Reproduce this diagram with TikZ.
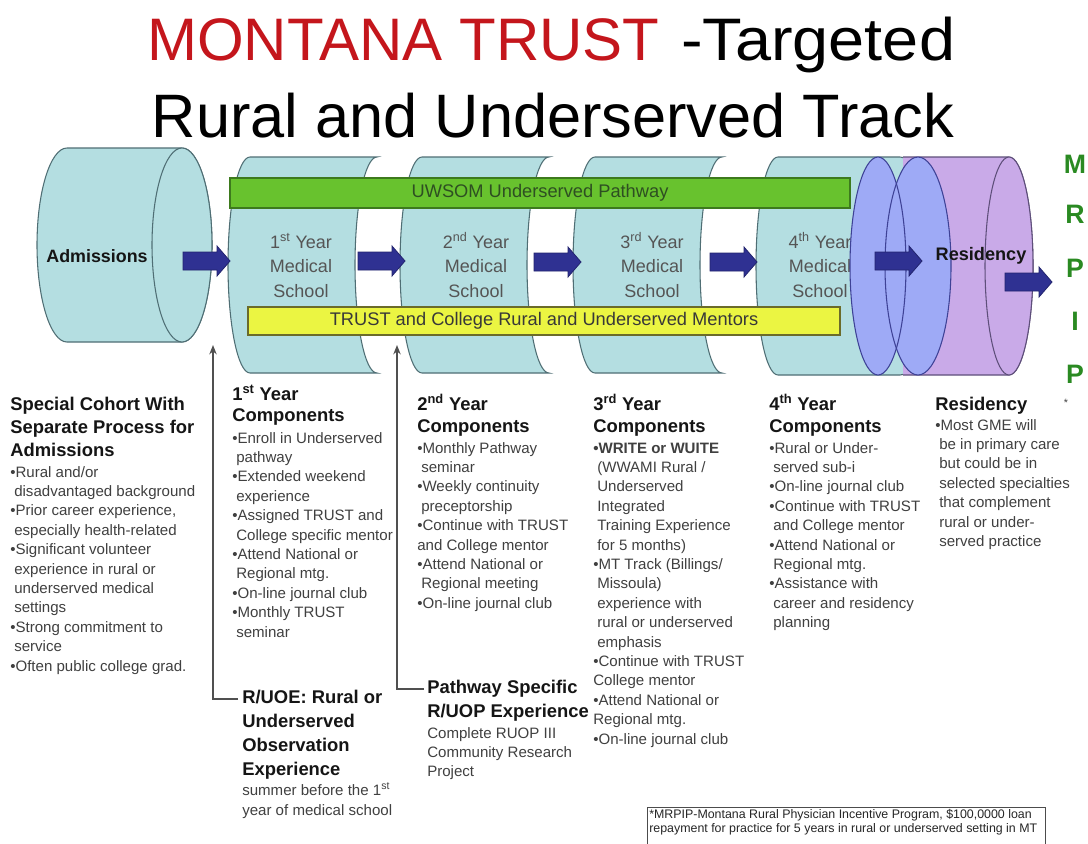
\documentclass[tikz,border=0pt]{standalone}
\usepackage{fontspec}
\setmainfont{Liberation Sans}
\usepackage{graphicx}
\usetikzlibrary{arrows.meta}
\definecolor{titlered}{HTML}{C4161C}
\definecolor{tealfill}{HTML}{B4DEE1}
\definecolor{tealline}{HTML}{4F6E74}
\definecolor{bluefill}{HTML}{9EAAF6}
\definecolor{blueline}{HTML}{3E4296}
\definecolor{purfill}{HTML}{C9AAE8}
\definecolor{purline}{HTML}{5E4F7A}
\definecolor{barGreen}{HTML}{68C22E}
\definecolor{barGreenLine}{HTML}{3D7A1D}
\definecolor{barGreenText}{HTML}{2E4F22}
\definecolor{barYellow}{HTML}{EBF542}
\definecolor{barYellowLine}{HTML}{6B6B2A}
\definecolor{arrowfill}{HTML}{2F3192}
\definecolor{arrowline}{HTML}{22246E}
\definecolor{mrgreen}{HTML}{2A8A22}
\definecolor{bodygray}{HTML}{404040}
\definecolor{seggray}{HTML}{555555}
\definecolor{headblack}{HTML}{151515}
\definecolor{connline}{HTML}{505050}
\newcommand{\bul}{\textbullet}
\newcommand{\ind}{\hspace*{3pt}}
\newcommand{\tb}[1]{\parbox[t]{200pt}{\raggedright #1}}
\newcommand{\tc}[1]{\parbox[t]{100pt}{\centering #1}}
\newcommand{\sps}[1]{\textsuperscript{#1}}
\newcommand{\yearseg}[1]{\path[seg] (#1,157) -- ++(127,0) arc[start angle=-90,end angle=-270,x radius=22,y radius=108] -- ++(-127,0) arc[start angle=90,end angle=270,x radius=22,y radius=108] -- cycle;}
\newcommand{\blockarrow}[2]{\path[barrow] (#1,#2) ++(0,-9) -- ++(34,0) -- ++(0,-6) -- ++(13,15) -- ++(-13,15) -- ++(0,-6) -- ++(-34,0) -- cycle;}
\begin{document}
\begin{tikzpicture}[x=0.75pt,y=-0.75pt,
  seg/.style={fill=tealfill,draw=tealline,line width=0.8pt},
  blueell/.style={fill=bluefill},
  blueedge/.style={draw=blueline,line width=0.8pt},
  pur/.style={fill=purfill,draw=purline,line width=0.8pt},
  barrow/.style={fill=arrowfill,draw=arrowline,line width=0.6pt},
  bar/.style={draw,line width=0.8pt,inner sep=0pt,font=\fontsize{13.7}{16}\selectfont},
  seglab/.style={inner sep=0pt,anchor=base,text=seggray,font=\fontsize{13.5}{18.4}\selectfont},
  head/.style={inner sep=0pt,anchor=base west,text=headblack,font=\bfseries\fontsize{13.8}{16.5}\selectfont},
  body/.style={inner sep=0pt,anchor=base west,text=bodygray,font=\fontsize{11.3}{14.55}\selectfont},
  conn/.style={draw=connline,line width=1.1pt,-{Stealth[length=7pt,width=5.5pt]}},
  mr/.style={inner sep=0pt,anchor=base,text=mrgreen,font=\bfseries\fontsize{20}{22}\selectfont}
]
\useasboundingbox (0,0) rectangle (1088,843);
\fill[white] (0,0) rectangle (1088,843);

% title
\node[inner sep=0pt,anchor=base west,text=titlered,font=\fontsize{45}{50}\selectfont] (t1) at (147,60) {MONTANA TRUST};
\node[inner sep=0pt,anchor=base west,font=\fontsize{45}{50}\selectfont] (t1b) at (681,60) {\scalebox{1.08}[1]{-Targeted}};
\node[inner sep=0pt,anchor=base,font=\fontsize{46}{50}\selectfont] (t2) at (553,137) {Rural and Underserved Track};

% admissions cylinder
\path[seg] (67,148) -- (182,148) arc[start angle=-90,end angle=90,x radius=30,y radius=97] -- (67,342) arc[start angle=90,end angle=270,x radius=30,y radius=97] -- cycle;
\path[seg] (182,245) ellipse[x radius=30,y radius=97];
\node[inner sep=0pt,anchor=base,font=\bfseries\fontsize{13.4}{16}\selectfont,text=headblack] (adm) at (97,262) {Admissions};

% year segments
\yearseg{250}
\yearseg{422}
\yearseg{595}
% 4th year body
\path[seg] (778,157) -- (900,157) arc[start angle=-90,end angle=90,x radius=28,y radius=109] -- (778,375) arc[start angle=90,end angle=270,x radius=22,y radius=109] -- cycle;

\node[seglab] (s1) at (301,248) {\tc{1\sps{st} Year\\Medical\\School}};
\node[seglab] (s2) at (476,248) {\tc{2\sps{nd} Year\\Medical\\School}};
\node[seglab] (s3) at (652,248) {\tc{3\sps{rd} Year\\Medical\\School}};
\node[seglab] (s4) at (820,248) {\tc{4\sps{th} Year\\Medical\\School}};

% blue ellipse 1, purple body, blue ellipse 2, purple end
\path[blueell] (878,266) ellipse[x radius=28,y radius=109];
\fill[purfill] (903,157) -- (1009,157) arc[start angle=-90,end angle=90,x radius=24,y radius=109] -- (903,375) -- cycle;
\draw[draw=purline,line width=0.8pt] (903,157) -- (1009,157) arc[start angle=-90,end angle=90,x radius=24,y radius=109] -- (903,375);
\path[blueell] (918,266) ellipse[x radius=33,y radius=109];
\path[blueedge] (918,266) ellipse[x radius=33,y radius=109];
\path[blueedge] (878,266) ellipse[x radius=28,y radius=109];
\path[pur] (1009,266) ellipse[x radius=24,y radius=109];

% bars
\node[bar,fill=barGreen,draw=barGreenLine,text=barGreenText,minimum width=465pt,minimum height=22.5pt] (uwsom) at (540,193) {UWSOM Underserved Pathway};
\node[bar,fill=barYellow,draw=barYellowLine,text=headblack!85,minimum width=444pt,minimum height=21pt] (mentors) at (544,321) {TRUST and College Rural and Underserved Mentors};

% block arrows
\blockarrow{183}{261}
\blockarrow{358}{261}
\blockarrow{534}{262}
\blockarrow{710}{262}
\blockarrow{875}{261}
\node[inner sep=0pt,anchor=base,font=\bfseries\fontsize{13.6}{16}\selectfont,text=headblack] (res) at (981,260) {Residency};
\blockarrow{1005}{282}

% MRPIP
\node[mr] (m1) at (1075,173) {M};
\node[mr] (m2) at (1075,223) {R};
\node[mr] (m3) at (1075,277) {P};
\node[mr] (m4) at (1075,330) {I};
\node[mr] (m5) at (1075,383) {P};
\node[inner sep=0pt,anchor=base,text=bodygray,font=\fontsize{8}{9}\selectfont] (ast) at (1066,406) {*};

% column 1
\node[head,font=\bfseries\fontsize{13.8}{17.25}\selectfont] (h1) at (10,410) {\tb{Special Cohort With\\Separate Process for\\Admissions}};
\node[body] (b1) at (10,477) {\tb{\bul Rural and/or\\
\ind disadvantaged background\\
\bul Prior career experience,\\
\ind especially health-related\\
\bul Significant volunteer\\
\ind experience in rural or\\
\ind underserved medical\\
\ind settings\\
\bul Strong commitment to\\
\ind service\\
\bul Often public college grad.}};

% column 2
\node[head,font=\bfseries\fontsize{13.8}{15.9}\selectfont] (h2) at (232,400) {\tb{1\sps{st} Year\\Components}};
\node[body] (b2) at (232,443) {\tb{\bul Enroll in Underserved\\
\ind pathway\\
\bul Extended weekend\\
\ind experience\\
\bul Assigned TRUST and\\
\ind College specific mentor\\
\bul Attend National or\\
\ind Regional mtg.\\
\bul On-line journal club\\
\bul Monthly TRUST\\
\ind seminar}};

% column 3
\node[head] (h3) at (417,410) {\tb{2\sps{nd} Year\\Components}};
\node[body] (b3) at (417,453) {\tb{\bul Monthly Pathway\\
\ind seminar\\
\bul Weekly continuity\\
\ind preceptorship\\
\bul Continue with TRUST\\
and College mentor\\
\bul Attend National or\\
\ind Regional meeting\\
\bul On-line journal club}};

% column 4
\node[head] (h4) at (593,410) {\tb{3\sps{rd} Year\\Components}};
\node[body] (b4) at (593,453) {\tb{\textbf{\bul WRITE or WUITE}\\
\ind (WWAMI Rural /\\
\ind Underserved\\
\ind Integrated\\
\ind Training Experience\\
\ind for 5 months)\\
\bul MT Track (Billings/\\
\ind Missoula)\\
\ind experience with\\
\ind rural or underserved\\
\ind emphasis\\
\bul Continue with TRUST\\
College mentor\\
\bul Attend National or\\
Regional mtg.\\
\bul On-line journal club}};

% column 5
\node[head] (h5) at (769,410) {\tb{4\sps{th} Year\\Components}};
\node[body] (b5) at (769,453) {\tb{\bul Rural or Under-\\
\ind served sub-i\\
\bul On-line journal club\\
\bul Continue with TRUST\\
\ind and College mentor\\
\bul Attend National or\\
\ind Regional mtg.\\
\bul Assistance with\\
\ind career and residency\\
\ind planning}};

% column 6
\node[head] (h6) at (935,410) {\tb{Residency}};
\node[body] (b6) at (935,430) {\tb{\bul Most GME will\\
\ind be in primary care\\
\ind but could be in\\
\ind selected specialties\\
\ind that complement\\
\ind rural or under-\\
\ind served practice}};

% R/UOE block
\node[head,font=\bfseries\fontsize{13.8}{18}\selectfont] (h7) at (242,703) {\tb{R/UOE: Rural or\\Underserved\\Observation\\Experience}};
\node[body,font=\fontsize{11.3}{15}\selectfont] (b7) at (242,795) {\tb{summer before the 1\sps{st}\\year of medical school}};

% Pathway block
\node[head,font=\bfseries\fontsize{13.8}{18}\selectfont] (h8) at (427,693) {\tb{Pathway Specific\\R/UOP Experience}};
\node[body] (b8) at (427,738) {\tb{Complete RUOP III\\Community Research\\Project}};

% connectors
\coordinate (ruoeIn) at (238,699);
\coordinate (yr1tip) at (213,345);
\coordinate (ruopIn) at (424,689);
\coordinate (yr2tip) at (397,345);
\draw[conn] (ruoeIn) -| (yr1tip);
\draw[conn] (ruopIn) -| (yr2tip);

% footnote
\draw[line width=0.6pt,draw=black!70] (647,846) -- (647,807) -- (1045,807) -- (1045,846);
\node[inner sep=0pt,anchor=base west,text=black!85,font=\fontsize{9.3}{10.5}\selectfont] (fn) at (649,818) {\parbox[t]{400pt}{*MRPIP-Montana Rural Physician Incentive Program, \$100,0000 loan\\repayment for practice for 5 years in rural or underserved setting in MT}};
\end{tikzpicture}
\end{document}
